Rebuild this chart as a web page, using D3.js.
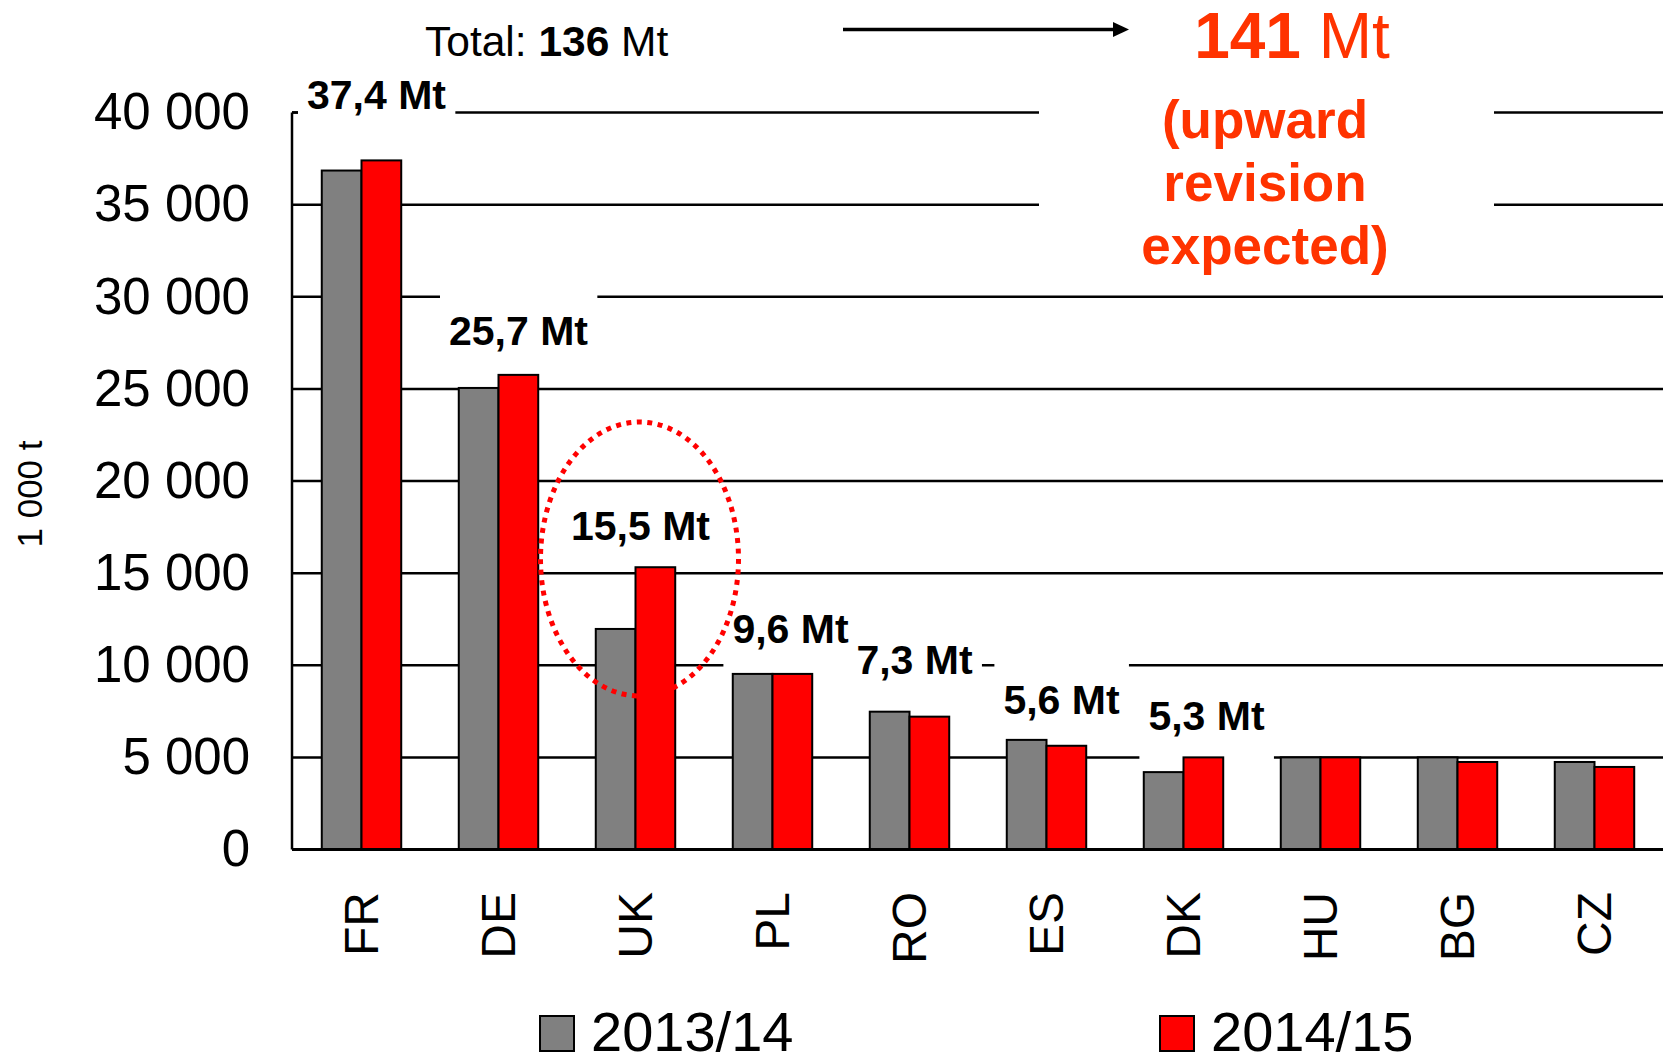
<!DOCTYPE html>
<html>
<head>
<meta charset="utf-8">
<script src="https://cdn.jsdelivr.net/npm/d3@7"></script>
<style>
  body { margin: 0; background: #fff; }
  svg { display: block; font-family: "Liberation Sans", Arial, sans-serif; }
</style>
</head>
<body>
<div id="chart"></div>
<script>
// values in 1 000 t
const countries = ["FR", "DE", "UK", "PL", "RO", "ES", "DK", "HU", "BG", "CZ"];
const seriesNames = ["2013/14", "2014/15"];
const values1314 = [36850, 25050, 11970, 9530, 7480, 5950, 4200, 5000, 5000, 4750];
const values1415 = [37400, 25760, 15320, 9530, 7210, 5630, 5000, 5000, 4750, 4480];
const valueLabels = ["37,4 Mt", "25,7 Mt", "15,5 Mt", "9,6 Mt", "7,3 Mt", "5,6 Mt", "5,3 Mt"];
const yTicks = [0, 5000, 10000, 15000, 20000, 25000, 30000, 35000, 40000];

// where each value label sits: [dx from band centre, dy from red bar top]
const labelOffsets = [[15, -51], [20, -30], [5, -27], [18, -31], [5, -43], [15, -32], [23, -27]];

const W = 1667, H = 1063;
const colors = ["#808080", "#ff0000"];
const accent = "#ff3300";

const svg = d3.select("#chart").append("svg")
  .attr("width", W)
  .attr("height", H);

const x = d3.scaleBand().domain(countries).range([293, 1663]);
const y = d3.scaleLinear().domain([0, 40000]).range([849.5, 112.5]);
const barW = x.bandwidth() * 0.29;

const fmt = d3.formatLocale({ decimal: ",", thousands: " ", grouping: [3], currency: ["", ""] }).format(",d");

// gridlines
svg.append("g")
  .attr("class", "grid")
  .selectAll("line")
  .data(yTicks.filter(d => d > 0))
  .enter().append("line")
  .attr("x1", 292).attr("x2", 1663)
  .attr("y1", d => y(d)).attr("y2", d => y(d))
  .attr("stroke", "#000")
  .attr("stroke-width", 2.5);

// white boxes behind the text, like the slide's text frames
const boxes = svg.append("g");

// the big red note box
boxes.append("rect")
  .attr("x", 1039).attr("y", 75)
  .attr("width", 455).attr("height", 208)
  .attr("fill", "#fff");

// bars
const bars = svg.append("g");
[values1314, values1415].forEach((vals, s) => {
  bars.selectAll(".bar" + s)
    .data(vals)
    .enter().append("rect")
    .attr("class", "bar" + s)
    .attr("x", (d, i) => x(countries[i]) + x.bandwidth() / 2 - barW + s * barW)
    .attr("y", d => y(d))
    .attr("width", barW)
    .attr("height", d => y(0) - y(d))
    .attr("fill", colors[s])
    .attr("stroke", "#000")
    .attr("stroke-width", 2);
});

// value labels with their boxes
valueLabels.forEach((lab, i) => {
  const cx = x(countries[i]) + x.bandwidth() / 2 + labelOffsets[i][0];
  const by = y(values1415[i]) + labelOffsets[i][1];
  const t = svg.append("text")
    .attr("x", cx).attr("y", by)
    .attr("text-anchor", "middle")
    .attr("font-size", 41)
    .attr("font-weight", "bold")
    .text(lab);
  const bb = t.node().getBBox();
  boxes.append("rect")
    .attr("x", bb.x - 9).attr("y", by - 52)
    .attr("width", bb.width + 18).attr("height", 82)
    .attr("fill", "#fff");
});

// axes
svg.append("line")
  .attr("x1", 292).attr("x2", 292)
  .attr("y1", y(40000)).attr("y2", y(0))
  .attr("stroke", "#000").attr("stroke-width", 2.5);
svg.append("line")
  .attr("x1", 292).attr("x2", 298)
  .attr("y1", y(40000)).attr("y2", y(40000))
  .attr("stroke", "#000").attr("stroke-width", 2.5);
svg.append("line")
  .attr("x1", 292).attr("x2", 1663)
  .attr("y1", y(0)).attr("y2", y(0))
  .attr("stroke", "#000").attr("stroke-width", 3);

const yAxis = d3.axisLeft(y).tickValues(yTicks).tickSize(0).tickPadding(42).tickFormat(fmt);
const ya = svg.append("g")
  .attr("transform", "translate(292,0)")
  .call(yAxis);
ya.select(".domain").remove();
ya.selectAll("text")
  .attr("font-size", 51)
  .attr("font-family", "Liberation Sans, Arial, sans-serif")
  .attr("fill", "#000");

svg.append("text")
  .attr("transform", "translate(30,494) rotate(-90)")
  .attr("text-anchor", "middle")
  .attr("dy", "0.35em")
  .attr("font-size", 35)
  .text("1 000 t");

// category labels, rotated
svg.append("g").selectAll("text")
  .data(countries)
  .enter().append("text")
  .attr("transform", d => "translate(" + (x(d) + x.bandwidth() / 2) + ",892) rotate(-90)")
  .attr("text-anchor", "end")
  .attr("dy", "0.35em")
  .attr("font-size", 48)
  .text(d => d);

// dotted ring around UK
svg.append("ellipse")
  .attr("cx", x("UK") + x.bandwidth() / 2 + 4)
  .attr("cy", 559)
  .attr("rx", 99).attr("ry", 137)
  .attr("fill", "none")
  .attr("stroke", "#ff0000")
  .attr("stroke-width", 5)
  .attr("stroke-dasharray", "5 5.5");

// total and arrow
const total = svg.append("text")
  .attr("x", 425).attr("y", 56)
  .attr("font-size", 42.5);
total.append("tspan").text("Total: ");
total.append("tspan").attr("font-weight", "bold").text("136");
total.append("tspan").text(" Mt");

svg.append("line")
  .attr("x1", 843).attr("x2", 1116)
  .attr("y1", 29.5).attr("y2", 29.5)
  .attr("stroke", "#000").attr("stroke-width", 3.5);
svg.append("path")
  .attr("d", "M1113,22 L1129,29.5 L1113,37 Z")
  .attr("fill", "#000");

const big = svg.append("text")
  .attr("x", 1292).attr("y", 58)
  .attr("text-anchor", "middle")
  .attr("font-size", 64)
  .attr("fill", accent);
big.append("tspan").attr("font-weight", "bold").text("141");
big.append("tspan").text(" Mt");

const note = ["(upward", "revision", "expected)"];
svg.append("g").selectAll("text")
  .data(note)
  .enter().append("text")
  .attr("x", 1265)
  .attr("y", (d, i) => 138 + i * 63)
  .attr("text-anchor", "middle")
  .attr("font-size", 53)
  .attr("font-weight", "bold")
  .attr("fill", accent)
  .text(d => d);

// legend (kept just clear of the bottom edge)
const legendX = [540, 1160];
const lg = svg.append("g").selectAll("g")
  .data(seriesNames)
  .enter().append("g")
  .attr("transform", (d, i) => "translate(" + legendX[i] + ",1016)");
lg.append("rect")
  .attr("width", 34).attr("height", 35)
  .attr("fill", (d, i) => colors[i])
  .attr("stroke", "#000").attr("stroke-width", 2);
lg.append("text")
  .attr("x", 51).attr("y", 35)
  .attr("font-size", 56)
  .text(d => d);
</script>
</body>
</html>
